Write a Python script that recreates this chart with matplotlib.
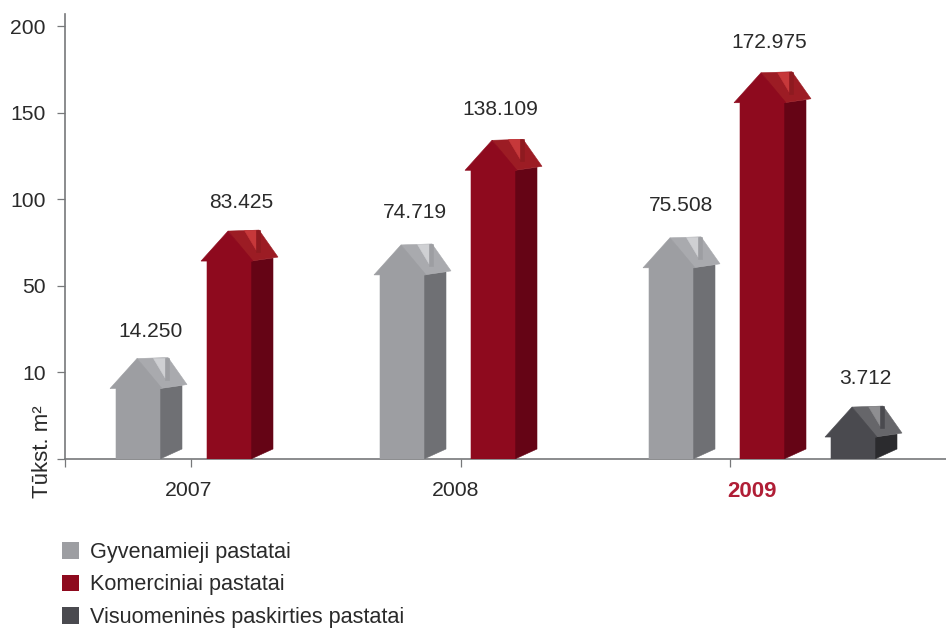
import numpy as np
import matplotlib
matplotlib.use("Agg")
import matplotlib.pyplot as plt
from matplotlib.patches import Polygon, Patch

plt.rcParams['font.family'] = ['Liberation Sans', 'DejaVu Sans']

# datos
years = ['2007', '2008', '2009']
series_names = ['Gyvenamieji pastatai', 'Komerciniai pastatai', 'Visuomeninės paskirties pastatai']
value_labels = ['14.250', '83.425', '74.719', '138.109', '75.508', '172.975', '3.712']
house_series = [0, 1, 0, 1, 0, 1, 2]
house_tops = [16.4, 81.6, 73.6, 134.0, 77.7, 173.0, 6.0]

y_ticks = [0, 10, 50, 100, 150, 200]
y_tick_labels = ['', '10', '50', '100', '150', '200']

# layout (pixeles del original)
W, H = 946, 628
year_tick_x = [191, 461, 730]
year_label_x = [189, 456, 752]
house_left = [116, 207, 380, 471, 649, 740, 831]
label_dx = [34, 34, 35, 29, 32, 29, 34]
label_dy = [27.5, 28.5, 32.5, 30.5, 32.5, 30.5, 29]

# front, side wall, roof side, chimney, chimney strip
colores = [
    ('#9d9ea2', '#6f7074', '#a9aaae', '#cfd0d3', '#9d9ea2'),
    ('#8e0a1e', '#650415', '#9c1c24', '#c6383a', '#8e1a20'),
    ('#4a4a4f', '#2b2b2e', '#66666a', '#8e8e91', '#4a4a4f'),
]

niveles = [0, 10, 50, 100, 150, 200, 250]
unidades = [0, 1, 2, 3, 4, 5, 6]
px_unidad = 86.6


def forward(v):
    return np.interp(v, niveles, unidades)


def inverse(u):
    return np.interp(u, unidades, niveles)


def baja(top, dy):
    # valor que queda dy pixeles debajo de top
    return inverse(forward(top) - dy / px_unidad)


def casa(ax, x0, top, col):
    front, side, roof, chim, strip = col
    base = 0
    side_low = inverse(10 / px_unidad)
    alero = baja(top, 30)
    pieces = [
        (side, [(x0 + 44, base), (x0 + 66, side_low), (x0 + 66, baja(top, 27)), (x0 + 44, alero)]),
        (roof, [(x0 + 21, top), (x0 + 52, baja(top, -1)), (x0 + 71, baja(top, 26)), (x0 + 44, alero)]),
        (front, [(x0, base), (x0 + 44, base), (x0 + 44, alero), (x0 + 46, alero), (x0 + 21, top),
                 (x0 - 6, alero), (x0, alero)]),
        (chim, [(x0 + 37, baja(top, -1)), (x0 + 49, baja(top, -1)), (x0 + 49, baja(top, 19))]),
        (strip, [(x0 + 49, baja(top, -1)), (x0 + 53, baja(top, -1)), (x0 + 53, baja(top, 21)), (x0 + 49, baja(top, 21))]),
    ]
    for color, pts in pieces:
        ax.add_patch(Polygon(pts, closed=True, facecolor=color, edgecolor=color, linewidth=0.4, zorder=3))


fig = plt.figure(figsize=(W / 100, H / 100), dpi=100)
ax = fig.add_axes([65 / W, 1 - 459 / H, (W - 65) / W, (459 - 14) / H])
ax.set_yscale('function', functions=(forward, inverse))
ax.set_xlim(65, W)
ax.set_ylim(0, inverse(5 + 12 / px_unidad))

for i in range(len(house_tops)):
    casa(ax, house_left[i], house_tops[i], colores[house_series[i]])
    ax.annotate(value_labels[i], (house_left[i] + label_dx[i], house_tops[i]),
                xytext=(0, label_dy[i] * 0.72), textcoords='offset points',
                ha='center', va='center', fontsize=15.1, color='#2a2a2a')

gris = '#77787a'
for lado in ['top', 'right']:
    ax.spines[lado].set_visible(False)
for lado in ['left', 'bottom']:
    ax.spines[lado].set_color(gris)
    ax.spines[lado].set_linewidth(1.2)

ax.set_yticks(y_ticks)
ax.set_yticklabels(y_tick_labels, fontsize=15.2, color='#2a2a2a')
ax.yaxis.set_minor_locator(matplotlib.ticker.NullLocator())
ax.tick_params(axis='both', length=5.8, width=0.9, color=gris, pad=8)

# las marcas y los textos de los años no coinciden en el original
ax.set_xticks([65] + year_tick_x)
ax.set_xticklabels([])
ax.set_xticks(year_label_x, labels=years, minor=True, fontsize=15.3, color='#2a2a2a')
ax.tick_params(axis='x', which='minor', length=0, pad=16)
etiqueta = ax.get_xticklabels(minor=True)[2]
etiqueta.set_color('#b01e36')
etiqueta.set_fontweight('bold')
etiqueta.set_fontsize(16)

fig.text(42 / W, 1 - 452 / H, 'Tūkst. m²', rotation=90, ha='center', va='center',
         fontsize=16, color='#2a2a2a')

handles = [Patch(facecolor=colores[i][0], edgecolor='none') for i in range(3)]
fig.legend(handles, series_names, loc='upper left', bbox_to_anchor=(62 / W, 1 - 542 / H),
           borderaxespad=0, borderpad=0, frameon=False, fontsize=15.6, labelcolor='#2a2a2a',
           handlelength=0.78, handleheight=0.78, handletextpad=0.5, labelspacing=0.53)

plt.savefig('out.png', dpi=100)
